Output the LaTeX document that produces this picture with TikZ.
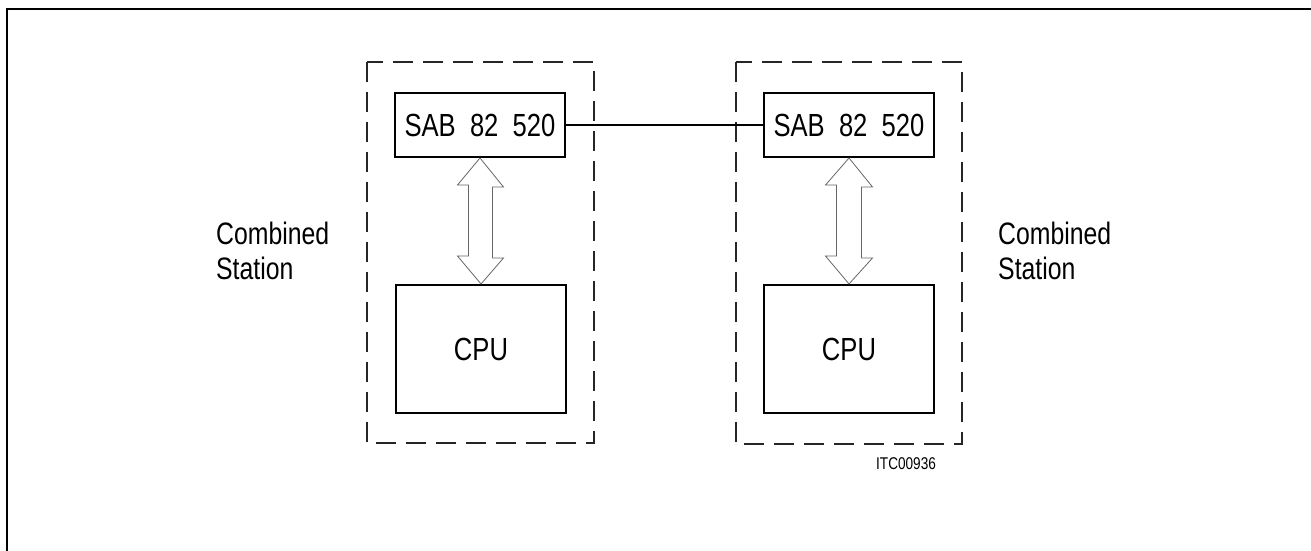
\documentclass[tikz,border=0pt]{standalone}
\usepackage{fontspec}
\setmainfont[FakeStretch=0.8,WordSpace=2]{Liberation Sans}
\begin{document}
\begin{tikzpicture}[x=1pt,y=-1pt,
  chip/.style={draw=black,line width=2pt,minimum width=170pt,minimum height=64pt,inner sep=0pt,font=\fontsize{32}{36}\selectfont},
  cpubox/.style={draw=black,line width=2pt,minimum width=170pt,minimum height=128pt,inner sep=0pt,font=\fontsize{32}{36}\selectfont},
  station/.style={draw=black!85,line width=1.5pt,dash pattern=on 20pt off 10pt},
  lbl/.style={anchor=north west,align=left,inner sep=0pt,font=\fontsize{31}{35}\selectfont},
  busarrow/.style={draw=black!60,line width=0.8pt,fill=white}]
\useasboundingbox (0,0) rectangle (1311,551);
\draw[line width=2pt] (7,551) -- (7,9) -- (1311,9);
% stations
\draw[station] (367,62) rectangle (594,443);
\draw[station] (736,62) rectangle (962,444);
% boxes
\node[chip] (sab1) at (480,125) {SAB 82 520};
\node[chip] (sab2) at (849,125) {SAB 82 520};
\node[cpubox] (cpu1) at (481,349) {CPU};
\node[cpubox] (cpu2) at (849,349) {CPU};
\draw[line width=1.5pt] (sab1.east) -- (sab2.west);
% double arrows
\foreach \s/\c in {sab1/cpu1,sab2/cpu2}{
  \path[busarrow] (\s.south) -- ++(23.5,29) -- ++(-11,0) -- ++(0,71) -- ++(11,0)
     -- (\c.north) -- ++(-23.5,-28) -- ++(11,0) -- ++(0,-71) -- ++(-11,0) -- cycle;
}
\node[lbl] (st1) at (216,222) {Combined\\Station};
\node[lbl] (st2) at (998,222) {Combined\\Station};
\node[anchor=south west,inner sep=0pt,font=\fontsize{17}{19}\selectfont] (itc) at (876,470) {ITC00936};
\end{tikzpicture}
\end{document}
